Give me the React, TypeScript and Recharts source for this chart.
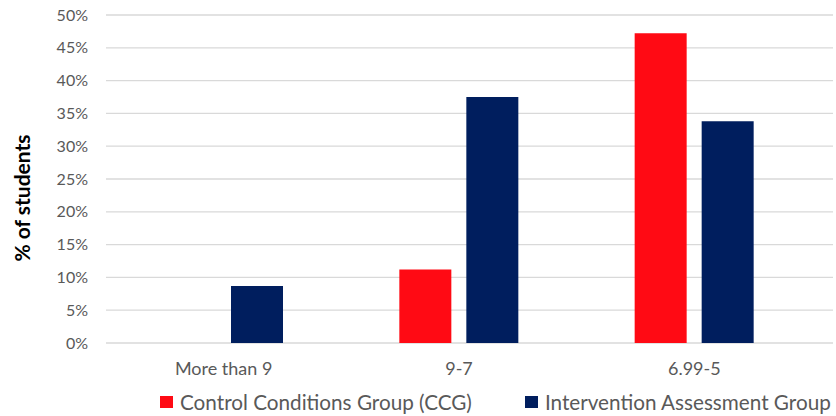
import React from 'react';
import { BarChart, Bar, XAxis, YAxis, CartesianGrid, Legend, Label } from 'recharts';

const categories = ['More than 9', '9-7', '6.99-5'];
const ccgValues = [0, 0.112, 0.472];
const iagValues = [0.087, 0.375, 0.338];
const yTicks = [0, 0.05, 0.1, 0.15, 0.2, 0.25, 0.3, 0.35, 0.4, 0.45, 0.5];
const seriesNames = ['Control Conditions Group (CCG)', 'Intervention Assessment Group'];
const seriesColors = ['#FF0A14', '#001E5E'];

const data = categories.map((c, i) => ({ name: c, ccg: ccgValues[i], iag: iagValues[i] }));

const FONT = 'Lato, "DejaVu Sans", sans-serif';
const TEXT = '#595959';

const LegendContent = () => (
  <div style={{ display: 'flex', alignItems: 'center', paddingLeft: 160, whiteSpace: 'nowrap', fontFamily: FONT, fontSize: 20.7, color: TEXT }}>
    {seriesNames.map((n, i) => (
      <div key={n} style={{ display: 'flex', alignItems: 'center', marginRight: 53 }}>
        <span style={{ display: 'inline-block', width: 13, height: 12, background: seriesColors[i], marginRight: 7 }} />
        <span>{n}</span>
      </div>
    ))}
  </div>
);

export default function App() {
  return (
    <div style={{ position: 'absolute', left: 0, top: 0, width: 836, height: 416, overflow: 'hidden', background: '#fff' }}>
      <BarChart
        width={836}
        height={416}
        data={data}
        margin={{ top: 15, right: 3, bottom: 43, left: 0 }}
        barSize={52}
        barGap={15}
      >
        <CartesianGrid vertical={false} stroke="#D9D9D9" strokeWidth={1.3} />
        <XAxis
          dataKey="name"
          axisLine={false}
          tickLine={false}
          tickSize={0}
          tickMargin={19.5}
          height={30}
          padding={{ left: 0, right: 21 }}
          tick={{ fill: TEXT, fontSize: 18, fontFamily: FONT }}
          interval={0}
        />
        <YAxis
          width={106}
          domain={[0, 0.5]}
          ticks={yTicks}
          axisLine={false}
          tickLine={false}
          tickSize={0}
          tickMargin={18}
          tickFormatter={(v: number) => `${Math.round(v * 100)}%`}
          tick={{ fill: TEXT, fontSize: 16, fontFamily: FONT }}
        >
          <Label
            value="% of students"
            angle={-90}
            position="insideLeft"
            offset={23}
            dy={19}
            style={{ textAnchor: 'middle', fontWeight: 700, fontSize: 21, fontFamily: FONT, fill: '#000' }}
          />
        </YAxis>
        <Legend
          verticalAlign="middle"
          align="center"
          wrapperStyle={{ top: 390, left: 0, width: 836 }}
          content={<LegendContent />}
        />
        <Bar dataKey="ccg" name={seriesNames[0]} fill={seriesColors[0]} isAnimationActive={false} />
        <Bar dataKey="iag" name={seriesNames[1]} fill={seriesColors[1]} isAnimationActive={false} />
      </BarChart>
    </div>
  );
}
